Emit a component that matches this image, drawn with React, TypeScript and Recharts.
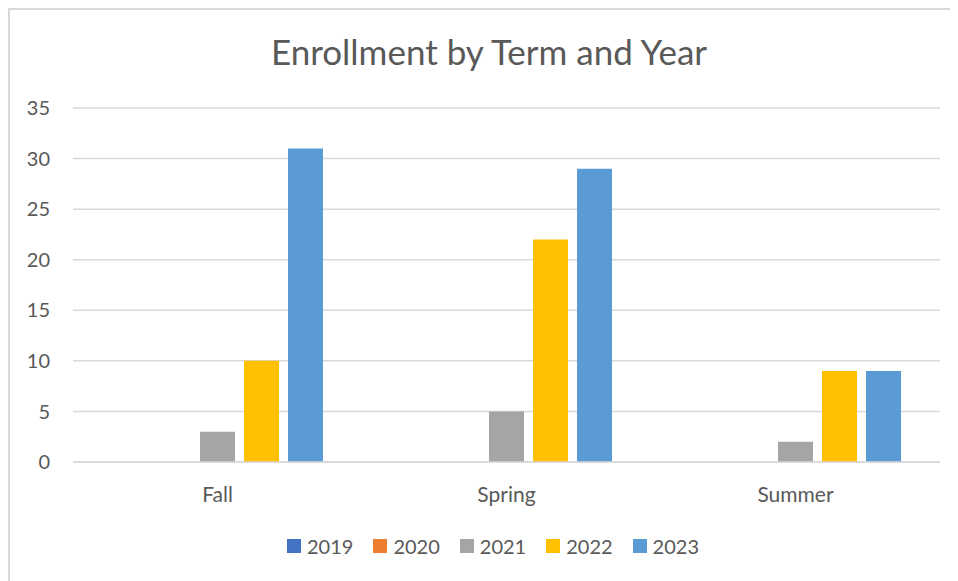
import React from "react";
import {
    BarChart,
    Bar,
    XAxis,
    YAxis,
    CartesianGrid,
    Legend,
} from "recharts";

const terms = ["Fall", "Spring", "Summer"];
const years = ["2019", "2020", "2021", "2022", "2023"];
const values2019 = [0, 0, 0];
const values2020 = [0, 0, 0];
const values2021 = [3, 5, 2];
const values2022 = [10, 22, 9];
const values2023 = [31, 29, 9];
const yTicks = [0, 5, 10, 15, 20, 25, 30, 35];

const colors = ["#4472C4", "#ED7D31", "#A5A5A5", "#FFC000", "#5B9BD5"];
const seriesValues = [values2019, values2020, values2021, values2022, values2023];

const data = terms.map((term, i) => {
    const row: Record<string, any> = { term };
    years.forEach((y, j) => {
        row[y] = seriesValues[j][i];
    });
    return row;
});

const FONT = "Lato, 'Noto Sans', sans-serif";
const TEXT = "#595959";

function TermTick(props: any) {
    const { x, y, payload } = props;
    return (
        <text
            x={x}
            y={y + 31}
            textAnchor="middle"
            dominantBaseline="central"
            fill={TEXT}
            fontSize={21}
            fontFamily={FONT}
        >
            {payload.value}
        </text>
    );
}

function YearLegend() {
    return (
        <div
            style={{
                display: "flex",
                justifyContent: "center",
                paddingLeft: 36,
                fontFamily: FONT,
                fontSize: 20,
                color: TEXT,
            }}
        >
            {years.map((y, i) => (
                <div
                    key={y}
                    style={{ display: "flex", alignItems: "center", marginRight: i < years.length - 1 ? 20 : 0 }}
                >
                    <span
                        style={{
                            width: 14,
                            height: 14,
                            background: colors[i],
                            display: "inline-block",
                            marginRight: 6,
                        }}
                    />
                    <span>{y}</span>
                </div>
            ))}
        </div>
    );
}

export default function App() {
    return (
        <div
            style={{
                position: "relative",
                width: 948,
                height: 600,
                border: "2px solid #d9d9d9",
                boxSizing: "border-box",
                background: "#fff",
            }}
        >
            <div
                style={{
                    position: "absolute",
                    left: 0,
                    top: 20,
                    width: 958,
                    textAlign: "center",
                    fontFamily: FONT,
                    fontSize: 35,
                    color: TEXT,
                }}
            >
                Enrollment by Term and Year
            </div>
            <BarChart
                width={944}
                height={571}
                data={data}
                margin={{ top: 98, right: 14, bottom: 7, left: 0 }}
                barGap={9}
                barCategoryGap="13.5%"
            >
                <CartesianGrid vertical={false} stroke="#d9d9d9" strokeWidth={1.5} />
                <XAxis
                    dataKey="term"
                    height={72}
                    tickLine={false}
                    tickSize={0}
                    tickMargin={0}
                    axisLine={{ stroke: "#d9d9d9", strokeWidth: 1.5 }}
                    tick={<TermTick />}
                />
                <YAxis
                    width={63}
                    domain={[0, 35]}
                    ticks={yTicks}
                    axisLine={false}
                    tickLine={false}
                    tickSize={0}
                    tickMargin={23}
                    tick={{ fill: TEXT, fontSize: 20, fontFamily: FONT }}
                />
                <Legend verticalAlign="bottom" height={40} content={<YearLegend />} />
                {years.map((y, i) => (
                    <Bar key={y} dataKey={y} fill={colors[i]} isAnimationActive={false} />
                ))}
            </BarChart>
        </div>
    );
}
